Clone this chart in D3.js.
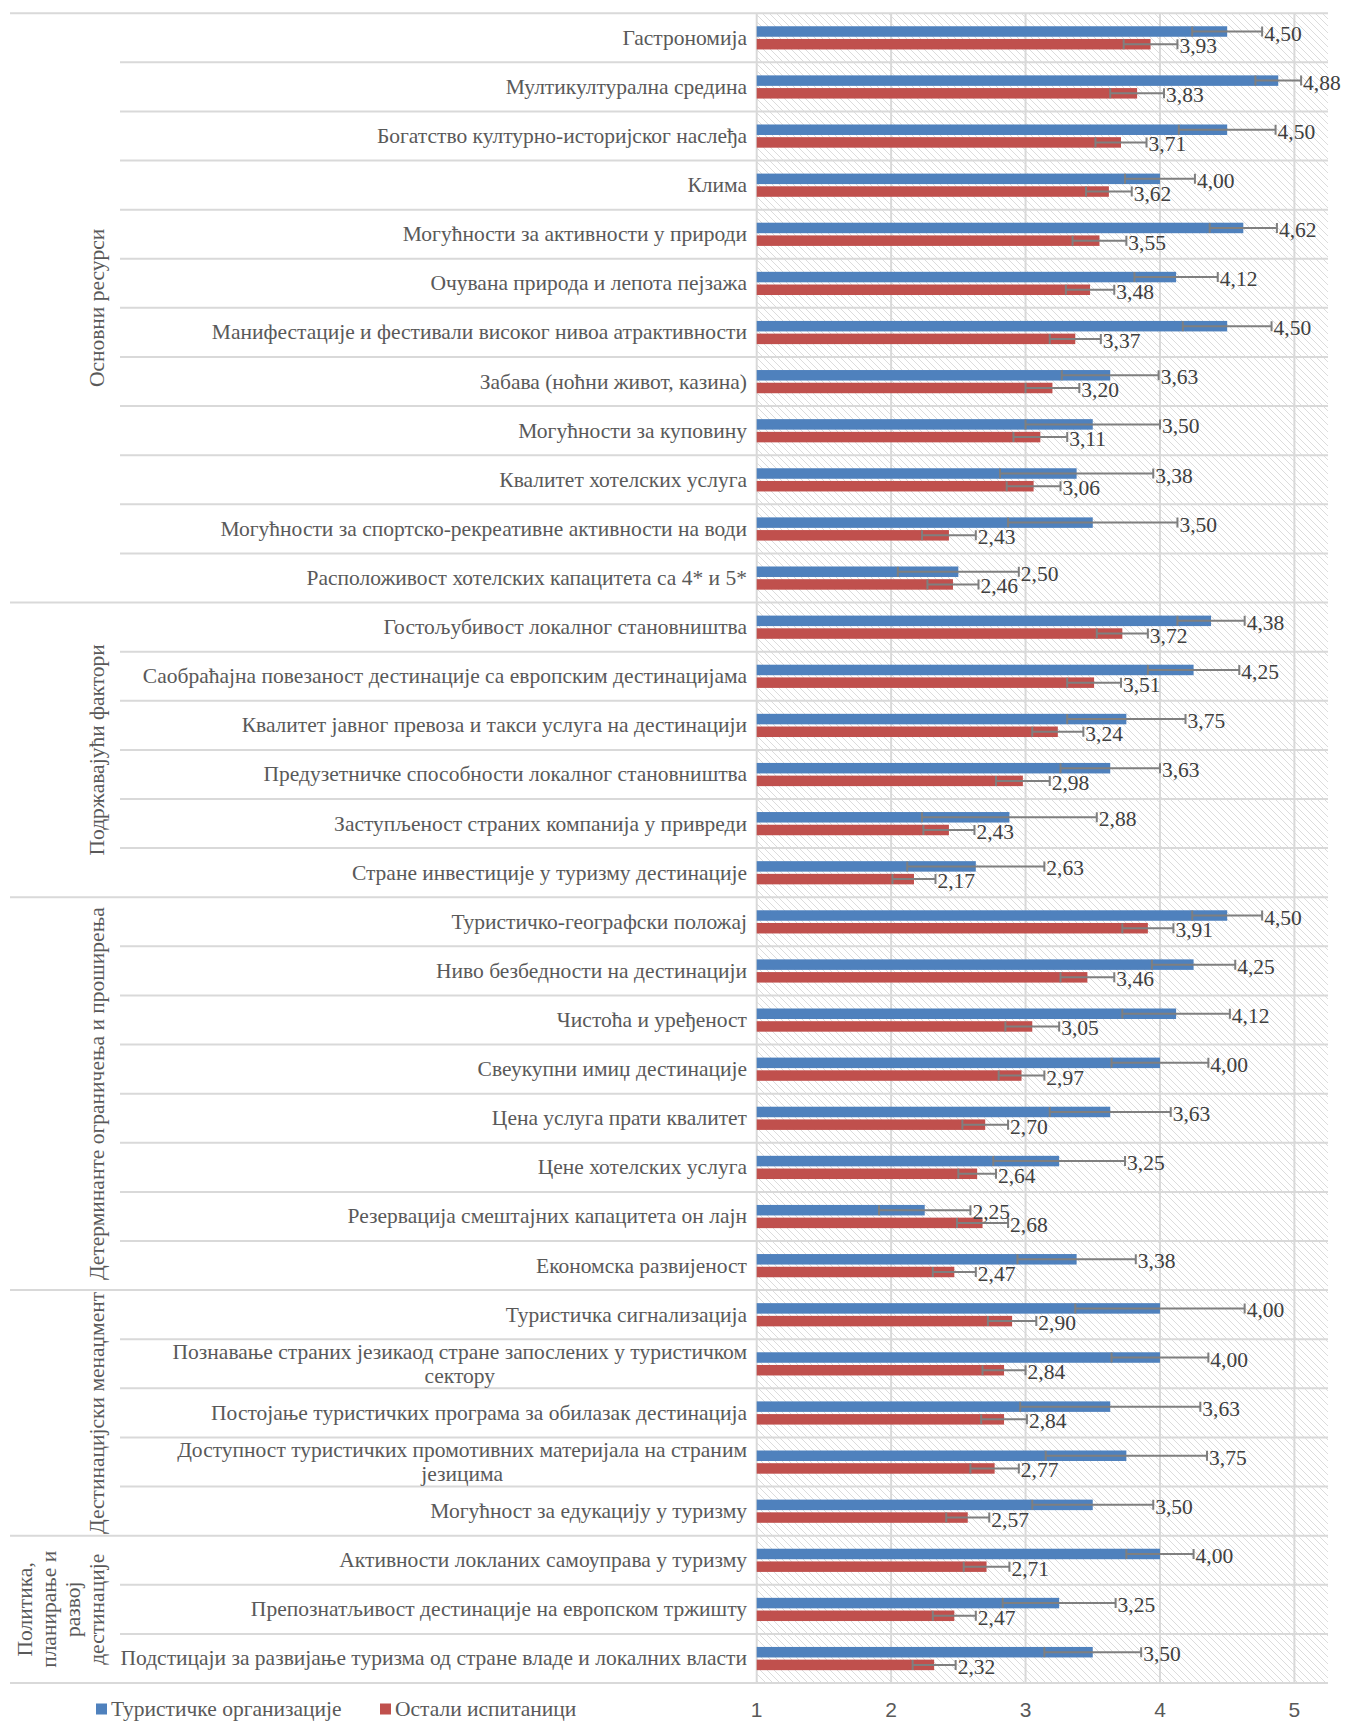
<!DOCTYPE html>
<html>
<head>
<meta charset="utf-8">
<script src="https://cdn.jsdelivr.net/npm/d3@7"></script>
<style>
  body { margin: 0; background: #ffffff; }
  svg { display: block; }
</style>
</head>
<body>
<div id="chart"></div>
<script>
// chart data
var groupNames = ["Основни ресурси", "Подржавајући фактори", "Детерминанте ограничења и проширења",
  "Дестинацијски менаџмент", "Политика,\nпланирање и\nразвој\nдестинације"];
var groupSizes = [12, 6, 8, 5, 3];

var categories = [
  "Гастрономија",
  "Мултикултурална средина",
  "Богатство културно-историјског наслеђа",
  "Клима",
  "Могућности за активности у природи",
  "Очувана природа и лепота пејзажа",
  "Манифестације и фестивали високог нивоа атрактивности",
  "Забава (ноћни живот, казина)",
  "Могућности за куповину",
  "Квалитет хотелских услуга",
  "Могућности за спортско-рекреативне активности на води",
  "Расположивост хотелских капацитета са 4* и 5*",
  "Гостољубивост локалног становништва",
  "Саобраћајна повезаност дестинације са европским дестинацијама",
  "Квалитет јавног превоза и такси услуга на дестинацији",
  "Предузетничке способности локалног становништва",
  "Заступљеност страних компанија у привреди",
  "Стране инвестиције у туризму дестинације",
  "Туристичко-географски положај",
  "Ниво безбедности на дестинацији",
  "Чистоћа и уређеност",
  "Свеукупни имиџ дестинације",
  "Цена услуга прати квалитет",
  "Цене хотелских услуга",
  "Резервација смештајних капацитета он лајн",
  "Економска развијеност",
  "Туристичка сигнализација",
  "Познавање страних језикаод стране запослених у туристичком\nсектору",
  "Постојање туристичких програма за обилазак дестинација",
  "Доступност туристичких промотивних материјала на страним\nјезицима",
  "Могућност за едукацију у туризму",
  "Активности локланих самоуправа у туризму",
  "Препознатљивост дестинације на европском тржишту",
  "Подстицаји за развијање туризма од стране владе и локалних власти"
];

var seriesNames = ["Туристичке организације", "Остали испитаници"];

var tourOrg = [4.50, 4.88, 4.50, 4.00, 4.62, 4.12, 4.50, 3.63, 3.50, 3.38, 3.50, 2.50,
  4.38, 4.25, 3.75, 3.63, 2.88, 2.63,
  4.50, 4.25, 4.12, 4.00, 3.63, 3.25, 2.25, 3.38,
  4.00, 4.00, 3.63, 3.75, 3.50,
  4.00, 3.25, 3.50];
var tourOrgErr = [0.26, 0.17, 0.36, 0.26, 0.25, 0.31, 0.33, 0.36, 0.50, 0.57, 0.63, 0.45,
  0.25, 0.34, 0.44, 0.37, 0.65, 0.51,
  0.26, 0.31, 0.40, 0.36, 0.45, 0.49, 0.34, 0.44,
  0.63, 0.36, 0.67, 0.60, 0.45,
  0.25, 0.42, 0.36];

var others = [3.93, 3.83, 3.71, 3.62, 3.55, 3.48, 3.37, 3.20, 3.11, 3.06, 2.43, 2.46,
  3.72, 3.51, 3.24, 2.98, 2.43, 2.17,
  3.91, 3.46, 3.05, 2.97, 2.70, 2.64, 2.68, 2.47,
  2.90, 2.84, 2.84, 2.77, 2.57,
  2.71, 2.47, 2.32];
var othersErr = [0.20, 0.20, 0.19, 0.17, 0.20, 0.18, 0.19, 0.20, 0.20, 0.20, 0.20, 0.19,
  0.19, 0.20, 0.19, 0.20, 0.19, 0.16,
  0.19, 0.20, 0.20, 0.17, 0.17, 0.14, 0.19, 0.16,
  0.18, 0.16, 0.17, 0.18, 0.16,
  0.17, 0.16, 0.16];

var xTicks = [1, 2, 3, 4, 5];

// layout
var width = 1346,
    height = 1722,
    plotLeft = 756.7,
    plotRight = 1328,
    plotTop = 13.2,
    plotBottom = 1683,
    groupLeft = 10,
    rowLeft = 120,
    labelRight = 747;

var serif = "'Liberation Serif', 'Times New Roman', serif";
var fs = 21.5;
var textGray = "#595959";
var lineGray = "#d9d9d9";
var colors = ["#4f81bd", "#c0504d"];

var svg = d3.select("#chart")
    .append("svg")
    .attr("width", width)
    .attr("height", height);

var x = d3.scaleLinear().domain([1, 5.25]).range([plotLeft, plotRight]);
var y = d3.scaleBand().domain(d3.range(categories.length)).range([plotTop, plotBottom]);

// hatch pattern for plot background
var pat = svg.append("defs").append("pattern")
    .attr("id", "hatch")
    .attr("patternUnits", "userSpaceOnUse")
    .attr("width", 7)
    .attr("height", 7);
pat.append("path")
    .attr("d", "M0,0L7,7M-1,6L1,8M6,-1L8,1")
    .attr("stroke", "#dcdcdc")
    .attr("stroke-width", 1);

svg.append("rect")
    .attr("x", plotLeft).attr("y", plotTop)
    .attr("width", plotRight - plotLeft).attr("height", plotBottom - plotTop)
    .attr("fill", "url(#hatch)");

// vertical grid
svg.append("g").selectAll("line")
  .data(xTicks)
  .enter().append("line")
    .attr("x1", function(d) { return x(d); })
    .attr("x2", function(d) { return x(d); })
    .attr("y1", plotTop).attr("y2", plotBottom)
    .attr("stroke", lineGray)
    .attr("stroke-width", 2);

// horizontal separators
var groupStarts = [0];
groupSizes.forEach(function(s, i) { groupStarts.push(groupStarts[i] + s); });

var seps = d3.range(categories.length + 1).map(function(i) {
  return { i: i, isGroup: groupStarts.indexOf(i) >= 0 };
});

svg.append("g").selectAll("line")
  .data(seps)
  .enter().append("line")
    .attr("x1", function(d) { return d.isGroup ? groupLeft : rowLeft; })
    .attr("x2", plotRight)
    .attr("y1", function(d) { return d.i < categories.length ? y(d.i) : plotBottom; })
    .attr("y2", function(d) { return d.i < categories.length ? y(d.i) : plotBottom; })
    .attr("stroke", lineGray)
    .attr("stroke-width", 2);

// bars
var bh = 10.5;
var rows = categories.map(function(c, i) {
  return { i: i, vals: [tourOrg[i], others[i]], errs: [tourOrgErr[i], othersErr[i]] };
});

var items = [];
rows.forEach(function(r) {
  r.vals.forEach(function(v, s) {
    var c = y(r.i) + y.bandwidth() / 2;
    items.push({ i: r.i, s: s, v: v, e: r.errs[s], top: s === 0 ? c - 11.5 : c + 1.2 });
  });
});

svg.append("g").selectAll("rect")
  .data(items)
  .enter().append("rect")
    .attr("x", x(1))
    .attr("y", function(d) { return d.top; })
    .attr("width", function(d) { return x(d.v) - x(1); })
    .attr("height", bh)
    .attr("fill", function(d) { return colors[d.s]; });

// error bars
var eg = svg.append("g")
    .attr("stroke", "#7f7f7f")
    .attr("stroke-width", 2)
    .attr("fill", "none");
eg.selectAll("path")
  .data(items)
  .enter().append("path")
    .attr("d", function(d) {
      var cy = d.top + bh / 2, x0 = x(d.v - d.e), x1 = x(d.v + d.e);
      return "M" + x0 + "," + cy + "H" + x1 +
        "M" + x0 + "," + (cy - 5) + "V" + (cy + 5) +
        "M" + x1 + "," + (cy - 5) + "V" + (cy + 5);
    });

// data labels
var fmt = function(v) { return d3.format(".2f")(v).replace(".", ","); };
svg.append("g").selectAll("text")
  .data(items)
  .enter().append("text")
    .attr("x", function(d) { return x(d.v + d.e) + 2; })
    .attr("y", function(d) { return d.top + bh / 2 + 2; })
    .attr("dominant-baseline", "central")
    .attr("font-family", serif)
    .attr("font-size", fs)
    .attr("fill", "#404040")
    .text(function(d) { return fmt(d.v); });

// category labels
var catG = svg.append("g")
    .attr("font-family", serif)
    .attr("font-size", fs)
    .attr("fill", textGray);

categories.forEach(function(c, i) {
  var lines = c.split("\n");
  var cy = y(i) + y.bandwidth() / 2;
  var t = catG.append("text")
      .attr("dominant-baseline", "central");
  lines.forEach(function(l, k) {
    t.append("tspan")
      .attr("y", cy + (k - (lines.length - 1) / 2) * 24)
      .text(l);
  });
  if (lines.length === 1) {
    t.attr("text-anchor", "end").selectAll("tspan").attr("x", labelRight);
  } else {
    var w = 0;
    t.selectAll("tspan").each(function() { w = Math.max(w, this.getComputedTextLength()); });
    t.attr("text-anchor", "middle").selectAll("tspan").attr("x", labelRight - w / 2);
  }
});

// group labels (rotated)
var gG = svg.append("g")
    .attr("font-family", serif)
    .attr("font-size", fs)
    .attr("fill", textGray);

groupNames.forEach(function(g, k) {
  var top = y(groupStarts[k]);
  var bot = groupStarts[k + 1] < categories.length ? y(groupStarts[k + 1]) : plotBottom;
  var cy = (top + bot) / 2;
  var lines = g.split("\n");
  var t = gG.append("text")
      .attr("transform", "translate(104," + cy + ") rotate(-90)")
      .attr("text-anchor", "middle");
  lines.forEach(function(l, j) {
    t.append("tspan")
      .attr("x", 0)
      .attr("y", -(lines.length - 1 - j) * 24)
      .text(l);
  });
});

// x axis tick labels
svg.append("g").selectAll("text")
  .data(xTicks)
  .enter().append("text")
    .attr("x", function(d) { return x(d); })
    .attr("y", 1717)
    .attr("text-anchor", "middle")
    .attr("font-family", "'Liberation Sans', Arial, sans-serif")
    .attr("font-size", 21)
    .attr("fill", textGray)
    .text(function(d) { return d; });

// legend
var legX = [96, 380];
var leg = svg.append("g").selectAll("g")
  .data(seriesNames)
  .enter().append("g")
    .attr("transform", function(d, i) { return "translate(" + legX[i] + ",1709)"; });
leg.append("rect")
    .attr("x", 0).attr("y", -5.5)
    .attr("width", 11).attr("height", 11)
    .attr("fill", function(d, i) { return colors[i]; });
leg.append("text")
    .attr("x", 15)
    .attr("y", 0)
    .attr("dominant-baseline", "central")
    .attr("font-family", serif)
    .attr("font-size", fs)
    .attr("fill", textGray)
    .text(function(d) { return d; });
</script>
</body>
</html>
